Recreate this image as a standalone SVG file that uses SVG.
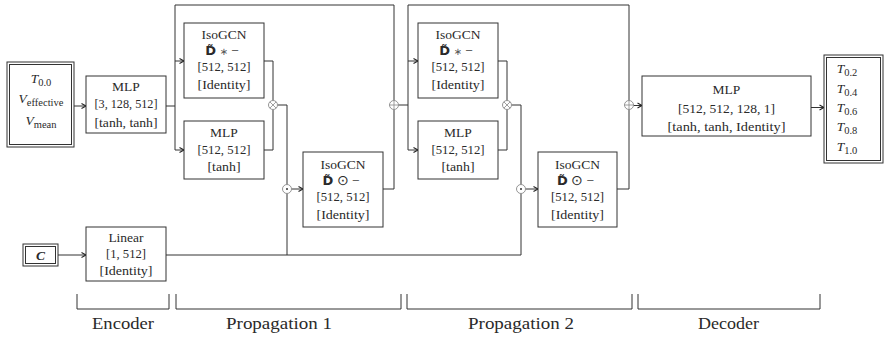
<svg xmlns="http://www.w3.org/2000/svg" width="886" height="337" viewBox="0 0 886 337">
<style>
.box{fill:#fff;stroke:#333;stroke-width:1}
.t{font-family:"Liberation Serif",serif;font-size:13.5px;fill:#2a2a2a;text-anchor:middle}
.lb{font-family:"Liberation Serif",serif;font-size:16.5px;fill:#2a2a2a;text-anchor:middle}
.d{font-family:"DejaVu Sans",sans-serif;font-weight:bold;font-size:13px}
.s{font-family:"DejaVu Sans",sans-serif;font-size:10px;fill:#555}
.c{fill:none;stroke:#333;stroke-width:1}
.op{fill:#fff;stroke:#888;stroke-width:0.9}
.opl{fill:none;stroke:#888;stroke-width:0.8}
.it{font-style:italic}
</style>
<defs>
<marker id="ar" markerWidth="7" markerHeight="7" refX="5.5" refY="3.5" orient="auto" markerUnits="userSpaceOnUse">
<path d="M1,1 L5.5,3.5 L1,6" fill="none" stroke="#222" stroke-width="1.1"/>
</marker>
</defs>

<g id="connectors">
<path class="c" d="M74,106 H86" marker-end="url(#ar)"/>
<path class="c" d="M166,106 H175"/>
<path class="c" d="M175,150 V5 H394 V100.5"/>
<path class="c" d="M175,61 H184" marker-end="url(#ar)"/>
<path class="c" d="M175,150 H184" marker-end="url(#ar)"/>
<path class="c" d="M264,61 H273 V100.5"/>
<path class="c" d="M264,150 H273 V109.5"/>
<path class="c" d="M277.5,105 H287 V184.5"/>
<path class="c" d="M291.5,189 H303" marker-end="url(#ar)"/>
<path class="c" d="M383,189 H394 V109.5"/>
<path class="c" d="M398.5,105 H408"/>
<path class="c" d="M408,150 V5 H629 V100.5"/>
<path class="c" d="M408,61 H418" marker-end="url(#ar)"/>
<path class="c" d="M408,150 H418" marker-end="url(#ar)"/>
<path class="c" d="M498,61 H507 V100.5"/>
<path class="c" d="M498,150 H507 V109.5"/>
<path class="c" d="M511.5,105 H521 V184.5"/>
<path class="c" d="M525.5,189 H538" marker-end="url(#ar)"/>
<path class="c" d="M617,189 H629 V109.5"/>
<path class="c" d="M633.5,105.5 H642" marker-end="url(#ar)"/>
<path class="c" d="M811,107.5 H824" marker-end="url(#ar)"/>
<path class="c" d="M58,255 H86" marker-end="url(#ar)"/>
<path class="c" d="M166,255 H521 V193.5"/>
<path class="c" d="M287,255 V193.5"/>
</g>

<g id="op-mul1"><circle class="op" cx="273" cy="105" r="4.5"/><path class="opl" d="M269.8,101.8 L276.2,108.2 M276.2,101.8 L269.8,108.2"/></g>
<g id="op-mul2"><circle class="op" cx="507" cy="105" r="4.5"/><path class="opl" d="M503.8,101.8 L510.2,108.2 M510.2,101.8 L503.8,108.2"/></g>
<g id="op-add1"><circle class="op" cx="394" cy="105" r="4.5"/><path class="opl" d="M389.5,105 H398.5 M394,100.5 V109.5"/></g>
<g id="op-add2"><circle class="op" cx="629" cy="105" r="4.5"/><path class="opl" d="M624.5,105 H633.5 M629,100.5 V109.5"/></g>
<g id="op-dot1"><circle class="op" cx="287" cy="189" r="4.5"/><circle cx="287" cy="189" r="1" fill="#333"/></g>
<g id="op-dot2"><circle class="op" cx="521" cy="189" r="4.5"/><circle cx="521" cy="189" r="1" fill="#333"/></g>

<g id="input">
<rect class="box" x="7" y="62" width="67" height="85"/>
<rect class="box" x="9.5" y="64.5" width="62" height="80"/>
<text class="t" x="41" y="83" font-size="15"><tspan class="it">T</tspan><tspan font-size="10.5" dy="3">0.0</tspan></text>
<text class="t" x="41" y="103" font-size="15"><tspan class="it">V</tspan><tspan font-size="10.5" dy="3">effective</tspan></text>
<text class="t" x="41" y="125" font-size="15"><tspan class="it">V</tspan><tspan font-size="10.5" dy="3">mean</tspan></text>
</g>

<g id="enc-mlp">
<rect class="box" x="86" y="76" width="80" height="57"/>
<text class="t" x="126" y="91">MLP</text>
<text class="t" x="126" y="107.5" textLength="63" lengthAdjust="spacingAndGlyphs">[3, 128, 512]</text>
<text class="t" x="126" y="126.5" textLength="63" lengthAdjust="spacingAndGlyphs">[tanh, tanh]</text>
</g>

<g id="c-input">
<rect class="box" x="23" y="244" width="35" height="22"/>
<rect class="box" x="25.5" y="246.5" width="30" height="17"/>
<text class="t" x="40.5" y="260" font-size="15" font-weight="bold" font-style="italic">C</text>
</g>

<g id="enc-linear">
<rect class="box" x="86" y="227" width="80" height="54"/>
<text class="t" x="126" y="242" font-size="12.5">Linear</text>
<text class="t" x="126" y="257.5" textLength="40" lengthAdjust="spacingAndGlyphs">[1, 512]</text>
<text class="t" x="126" y="274.5" textLength="53" lengthAdjust="spacingAndGlyphs">[Identity]</text>
</g>

<g id="p1-isogcn">
<rect class="box" x="184" y="23" width="80" height="75"/>
<text class="t" x="224" y="39">IsoGCN</text>
<text class="t" x="222" y="55"><tspan class="d">D̃</tspan> <tspan class="s">∗</tspan> −</text>
<text class="t" x="224" y="70.5" textLength="53" lengthAdjust="spacingAndGlyphs">[512, 512]</text>
<text class="t" x="224" y="89" textLength="53" lengthAdjust="spacingAndGlyphs">[Identity]</text>
</g>

<g id="p1-mlp">
<rect class="box" x="184" y="121" width="80" height="58"/>
<text class="t" x="224" y="137">MLP</text>
<text class="t" x="224" y="153.5" textLength="53" lengthAdjust="spacingAndGlyphs">[512, 512]</text>
<text class="t" x="224" y="171" textLength="33" lengthAdjust="spacingAndGlyphs">[tanh]</text>
</g>

<g id="p1-isogcn2">
<rect class="box" x="303" y="152" width="80" height="75"/>
<text class="t" x="343" y="169">IsoGCN</text>
<text class="t" x="341" y="185"><tspan class="d">D̃</tspan> ⊙ −</text>
<text class="t" x="343" y="200.5" textLength="53" lengthAdjust="spacingAndGlyphs">[512, 512]</text>
<text class="t" x="343" y="219" textLength="53" lengthAdjust="spacingAndGlyphs">[Identity]</text>
</g>

<g id="p2-isogcn">
<rect class="box" x="418" y="23" width="80" height="75"/>
<text class="t" x="458" y="39">IsoGCN</text>
<text class="t" x="456" y="55"><tspan class="d">D̃</tspan> <tspan class="s">∗</tspan> −</text>
<text class="t" x="458" y="70.5" textLength="53" lengthAdjust="spacingAndGlyphs">[512, 512]</text>
<text class="t" x="458" y="89" textLength="53" lengthAdjust="spacingAndGlyphs">[Identity]</text>
</g>

<g id="p2-mlp">
<rect class="box" x="418" y="121" width="80" height="58"/>
<text class="t" x="458" y="137">MLP</text>
<text class="t" x="458" y="153.5" textLength="53" lengthAdjust="spacingAndGlyphs">[512, 512]</text>
<text class="t" x="458" y="171" textLength="33" lengthAdjust="spacingAndGlyphs">[tanh]</text>
</g>

<g id="p2-isogcn2">
<rect class="box" x="538" y="152" width="79" height="75"/>
<text class="t" x="577.5" y="169">IsoGCN</text>
<text class="t" x="575.5" y="185"><tspan class="d">D̃</tspan> ⊙ −</text>
<text class="t" x="577.5" y="200.5" textLength="53" lengthAdjust="spacingAndGlyphs">[512, 512]</text>
<text class="t" x="577.5" y="219" textLength="53" lengthAdjust="spacingAndGlyphs">[Identity]</text>
</g>

<g id="dec-mlp">
<rect class="box" x="642" y="76" width="169" height="60"/>
<text class="t" x="726.5" y="94">MLP</text>
<text class="t" x="726.5" y="112.5" textLength="97" lengthAdjust="spacingAndGlyphs">[512, 512, 128, 1]</text>
<text class="t" x="726.5" y="131" textLength="118" lengthAdjust="spacingAndGlyphs">[tanh, tanh, Identity]</text>
</g>

<g id="output">
<rect class="box" x="824" y="55" width="59" height="108"/>
<rect class="box" x="826.5" y="57.5" width="54" height="103"/>
<text class="t" x="847" y="73" font-size="15" text-anchor="start"><tspan class="it">T</tspan><tspan font-size="10.5" dy="3">0.2</tspan></text>
<text class="t" x="847" y="92.5" font-size="15" text-anchor="start"><tspan class="it">T</tspan><tspan font-size="10.5" dy="3">0.4</tspan></text>
<text class="t" x="847" y="112" font-size="15" text-anchor="start"><tspan class="it">T</tspan><tspan font-size="10.5" dy="3">0.6</tspan></text>
<text class="t" x="847" y="131" font-size="15" text-anchor="start"><tspan class="it">T</tspan><tspan font-size="10.5" dy="3">0.8</tspan></text>
<text class="t" x="847" y="150.5" font-size="15" text-anchor="start"><tspan class="it">T</tspan><tspan font-size="10.5" dy="3">1.0</tspan></text>
</g>

<g id="brackets">
<path class="c" d="M77,294 V309 H169 V294"/>
<path class="c" d="M176,294 V309 H401 V294"/>
<path class="c" d="M407,294 V309 H632 V294"/>
<path class="c" d="M638,294 V309 H820 V294"/>
<text class="lb" x="123" y="329" textLength="62" lengthAdjust="spacingAndGlyphs">Encoder</text>
<text class="lb" x="279" y="329" textLength="106" lengthAdjust="spacingAndGlyphs">Propagation 1</text>
<text class="lb" x="521" y="329" textLength="106" lengthAdjust="spacingAndGlyphs">Propagation 2</text>
<text class="lb" x="728.5" y="329" textLength="61" lengthAdjust="spacingAndGlyphs">Decoder</text>
</g>
</svg>
